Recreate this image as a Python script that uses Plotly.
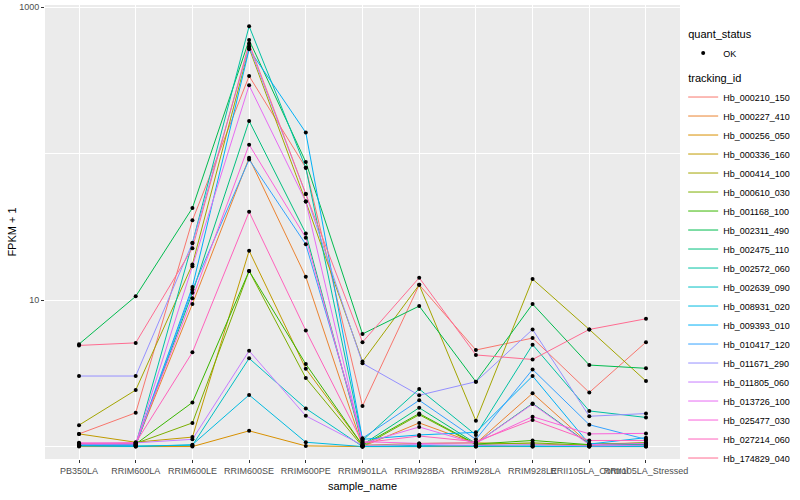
import plotly.graph_objects as go

samples = ["PB350LA", "RRIM600LA", "RRIM600LE", "RRIM600SE", "RRIM600PE",
           "RRIM901LA", "RRIM928BA", "RRIM928LA", "RRIM928LE",
           "RRII105LA_Control", "RRII105LA_Stressed"]

tracking_ids = ["Hb_000210_150", "Hb_000227_410", "Hb_000256_050", "Hb_000336_160",
                "Hb_000414_100", "Hb_000610_030", "Hb_001168_100", "Hb_002311_490",
                "Hb_002475_110", "Hb_002572_060", "Hb_002639_090", "Hb_008931_020",
                "Hb_009393_010", "Hb_010417_120", "Hb_011671_290", "Hb_011805_060",
                "Hb_013726_100", "Hb_025477_030", "Hb_027214_060", "Hb_174829_040"]

# FPKM + 1 values, one list per tracking id (order of samples)
hb_000210_150 = [1.22, 1.70, 35, 338, 80, 1.89, 12.7, 4.56, 5.5, 2.34, 5.16]
hb_000227_410 = [1.02, 1.03, 9.4, 93.5, 14.4, 1.0, 1.45, 1.05, 2.31, 1.04, 1.06]
hb_000256_050 = [1.0, 1.0, 1.0, 1.28, 1.01, 1.0, 1.0, 1.0, 1.0, 1.0, 1.0]
hb_000336_160 = [1.22, 1.07, 1.16, 21.7, 3.4, 1.02, 1.05, 1.06, 1.04, 1.02, 1.05]
hb_000414_100 = [1.40, 2.43, 17.5, 525, 47, 3.8, 12.7, 1.5, 13.9, 6.3, 2.8]
hb_000610_030 = [1.03, 1.05, 1.45, 15.8, 2.94, 1.0, 1.65, 1.03, 1.06, 1.02, 1.04]
hb_001168_100 = [1.02, 1.04, 2.0, 15.8, 3.66, 1.02, 1.68, 1.04, 1.1, 1.03, 1.06]
hb_002311_490 = [5.0, 10.6, 42.5, 596, 87.5, 5.87, 9.1, 2.77, 9.4, 3.6, 3.42]
hb_002475_110 = [1.02, 1.02, 11.2, 167, 28.5, 1.03, 1.84, 1.05, 1.97, 1.04, 1.03]
hb_002572_060 = [1.05, 1.03, 24.5, 740, 80, 1.1, 2.47, 1.2, 4.96, 1.75, 1.58]
hb_002639_090 = [1.03, 1.01, 1.02, 4.0, 1.82, 1.0, 1.02, 1.0, 1.01, 1.0, 1.02]
hb_008931_020 = [1.01, 1.0, 1.03, 2.25, 1.07, 1.0, 1.0, 1.02, 1.0, 1.0, 1.0]
hb_009393_010 = [1.02, 1.03, 12.3, 515, 139, 1.12, 1.2, 1.25, 3.03, 1.04, 1.15]
hb_010417_120 = [1.04, 1.02, 11.8, 91, 24, 1.14, 2.07, 1.12, 3.36, 1.41, 1.12]
hb_011671_290 = [3.03, 3.03, 24.5, 540, 53, 3.7, 2.24, 2.77, 6.3, 1.61, 1.68]
hb_011805_060 = [1.05, 1.06, 1.12, 4.5, 1.62, 1.02, 1.03, 1.02, 1.03, 1.01, 1.02]
hb_013726_100 = [1.04, 1.04, 17, 292, 47, 1.05, 1.36, 1.05, 1.95, 1.03, 1.05]
hb_025477_030 = [1.06, 1.05, 10.3, 115, 26.6, 1.08, 1.05, 1.06, 1.6, 1.22, 1.23]
hb_027214_060 = [1.05, 1.06, 4.4, 40, 6.2, 1.06, 1.18, 1.08, 1.52, 1.1, 1.1]
hb_174829_040 = [4.9, 5.1, 22.6, 565, 53, 5.16, 14.2, 4.22, 3.93, 6.3, 7.45]

series_values = [hb_000210_150, hb_000227_410, hb_000256_050, hb_000336_160,
                 hb_000414_100, hb_000610_030, hb_001168_100, hb_002311_490,
                 hb_002475_110, hb_002572_060, hb_002639_090, hb_008931_020,
                 hb_009393_010, hb_010417_120, hb_011671_290, hb_011805_060,
                 hb_013726_100, hb_025477_030, hb_027214_060, hb_174829_040]

colors = ["#F8766D", "#EA8331", "#D89000", "#C09B00", "#A3A500", "#7CAE00",
          "#39B600", "#00BB4E", "#00BF7D", "#00C1A3", "#00BFC4", "#00BAE0",
          "#00B0F6", "#35A2FF", "#9590FF", "#C77CFF", "#E76BF3", "#FA62DB",
          "#FF62BC", "#FF6C91"]

FONT = "Liberation Sans, Arial, Helvetica, sans-serif"

fig = go.Figure()

for tid, vals, col in zip(tracking_ids, series_values, colors):
    fig.add_trace(go.Scatter(
        x=samples, y=vals, mode="lines", name=tid,
        line=dict(color=col, width=1),
        legendgroup="tracking_id",
        legendgrouptitle=dict(text="tracking_id", font=dict(size=11, color="black", family=FONT)),
        legendrank=100,
    ))

all_x = [s for vals in series_values for s in samples]
all_y = [v for vals in series_values for v in vals]
fig.add_trace(go.Scatter(
    x=all_x, y=all_y, mode="markers", name="OK",
    marker=dict(color="black", size=4),
    legendgroup="quant_status",
    legendgrouptitle=dict(text="quant_status", font=dict(size=11, color="black", family=FONT)),
    legendrank=1,
))

fig.update_layout(
    width=800, height=500,
    margin=dict(l=45, r=120, t=5, b=41, autoexpand=False),
    paper_bgcolor="white",
    plot_bgcolor="#EBEBEB",
    font=dict(family=FONT, size=9, color="#4D4D4D"),
    showlegend=True,
    legend=dict(
        x=1.005, xanchor="left", y=0.968, yanchor="top",
        font=dict(size=9, color="black", family=FONT),
        traceorder="grouped", tracegroupgap=6,
        itemwidth=30,
        bgcolor="rgba(0,0,0,0)",
    ),
    xaxis=dict(
        type="category", categoryorder="array", categoryarray=samples,
        range=[-0.6, 10.6], automargin=False,
        showgrid=True, gridcolor="white", gridwidth=1.1,
        zeroline=False, showline=False,
        ticks="outside", ticklen=3, tickcolor="#333333", tickwidth=1,
        tickangle=0,
        tickfont=dict(size=9, color="#4D4D4D"),
        title=dict(text="sample_name", font=dict(size=11, color="black"), standoff=7),
    ),
    yaxis=dict(
        type="log", range=[-0.085, 3.014], automargin=False,
        tickmode="array", tickvals=[10, 1000], ticktext=["10", "1000"],
        showgrid=True, gridcolor="white", gridwidth=1.1,
        minor=dict(tickmode="array", tickvals=[1, 100], showgrid=True,
                   gridcolor="white", gridwidth=0.5, ticks=""),
        zeroline=False, showline=False,
        ticks="outside", ticklen=3, tickcolor="#333333", tickwidth=1,
        tickfont=dict(size=9, color="#4D4D4D"),
        title=dict(text="FPKM + 1", font=dict(size=11, color="black"), standoff=0),
    ),
)

fig.write_html("out.html", config={"displayModeBar": False},
               post_script="document.body.style.margin='0';document.body.style.padding='0';")
